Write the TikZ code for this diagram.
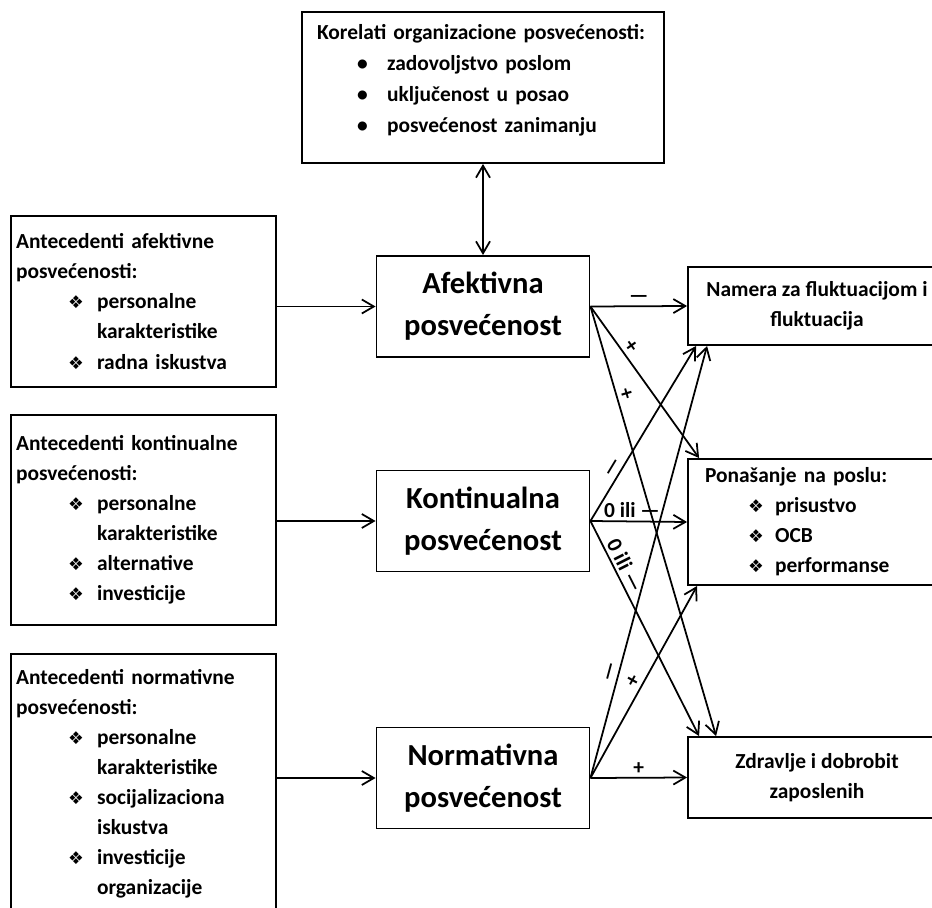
\documentclass[tikz,border=0pt]{standalone}
\usepackage{fontspec}
\setmainfont{Carlito}
\newfontfamily\simboli{DejaVu Sans}
\usetikzlibrary{arrows.meta,positioning}

\newcommand{\romb}{{\simboli\fontsize{10}{10}\selectfont ❖}}
\newcommand{\stavka}[1]{\hspace*{1.04cm}\makebox[0.58cm][l]{\romb}#1}
\newcommand{\nastavak}[1]{\hspace*{1.62cm}#1}
\newcommand{\tacka}[1]{\hspace*{0.8cm}\makebox[0.6cm][l]{\textbullet}#1}
\newcommand{\ishodstavka}[1]{\hspace*{0.86cm}\makebox[0.54cm][l]{\romb}#1}

\begin{document}
\begin{tikzpicture}[
        x=0.02cm, y=-0.02cm,
        okvir/.style={draw, line width=1.1pt, font=\bfseries\fontsize{12.2}{17.1}\selectfont},
        lijevi/.style={okvir, align=left, text width=5.1cm, inner xsep=0.1cm},
        posvecenost/.style={draw, line width=1.1pt, align=center, minimum width=4.26cm, minimum height=2.02cm, font=\bfseries\fontsize{17.4}{24}\selectfont},
        ishod/.style={okvir, minimum width=5.16cm},
        strelica/.style={-{Straight Barb[length=2.4mm,width=2.8mm]}, line width=1pt},
        dvostruka/.style={{Straight Barb[length=2.4mm,width=2.8mm]}-{Straight Barb[length=2.4mm,width=2.8mm]}, line width=1pt},
        oznaka/.style={above, inner sep=1.5pt, font=\bfseries\fontsize{12.2}{14}\selectfont}
    ]
        \useasboundingbox (0,0) rectangle (932,908);

        % korelati
        \node[okvir, align=left, text width=6.64cm, inner xsep=0.3cm, minimum height=3.02cm,
              font=\bfseries\fontsize{12.2}{17.6}\selectfont] (korelati) at (483,87.5)
            {Korelati organizacione posvećenosti:\\
             \tacka{zadovoljstvo poslom}\\
             \tacka{uključenost u posao}\\
             \tacka{posvećenost zanimanju}\\[-7pt]\mbox{}};

        % antecedenti
        \node[lijevi, minimum height=3.42cm] (ant1) at (143.5,301.5)
            {Antecedenti afektivne\\posvećenosti:\\
             \stavka{personalne}\\\nastavak{karakteristike}\\
             \stavka{radna iskustva}};
        \node[lijevi, minimum height=4.2cm] (ant2) at (143.5,520)
            {Antecedenti kontinualne\\posvećenosti:\\
             \stavka{personalne}\\\nastavak{karakteristike}\\
             \stavka{alternative}\\
             \stavka{investicije}};
        \node[lijevi, minimum height=5.18cm] (ant3) at (143.5,783.5)
            {Antecedenti normativne\\posvećenosti:\\
             \stavka{personalne}\\\nastavak{karakteristike}\\
             \stavka{socijalizaciona}\\\nastavak{iskustva}\\
             \stavka{investicije}\\\nastavak{organizacije}};

        % tri komponente
        \node[posvecenost] (afek) at (483,306.5) {Afektivna\\posvećenost};
        \node[posvecenost] (kont) at (483,521) {Kontinualna\\posvećenost};
        \node[posvecenost] (norm) at (483,778) {Normativna\\posvećenost};

        % ishodi
        \node[ishod, align=center, minimum height=1.56cm] (namera) at (817,306)
            {Namera za fluktuacijom i\\fluktuacija};
        \node[ishod, align=left, text width=4.48cm, inner xsep=0.34cm, minimum height=2.52cm] (ponasanje) at (817,522)
            {Ponašanje na poslu:\\
             \ishodstavka{prisustvo}\\
             \ishodstavka{OCB}\\
             \ishodstavka{performanse}};
        \node[ishod, align=center, minimum height=1.62cm] (zdravlje) at (817,777.5)
            {Zdravlje i dobrobit\\zaposlenih};

        \draw[dvostruka] (korelati.south) -- (afek.north);

        \draw[strelica] (ant1.east |- afek.west) -- (afek.west);
        \draw[strelica] (ant2.east |- kont.west) -- (kont.west);
        \draw[strelica] (ant3.east |- norm.west) -- (norm.west);

        \draw[strelica] (afek.east) -- node[oznaka]{—} (namera.west);
        \draw[strelica] (afek.east) -- node[oznaka, sloped, pos=0.3]{+} ([xshift=0.24cm]ponasanje.north west);
        \draw[strelica] (afek.east) -- node[oznaka, sloped, pos=0.21]{+} ([xshift=0.58cm]zdravlje.north west);

        \draw[strelica] (kont.east) -- node[oznaka, sloped, pos=0.28]{—} ([xshift=0.18cm]namera.south west);
        \draw[strelica] (kont.east) -- node[oznaka, pos=0.43]{0 ili —} (ponasanje.west);
        \draw[strelica] (kont.east) -- node[oznaka, sloped, pos=0.23]{0 ili —} ([xshift=0.24cm]zdravlje.north west);

        \draw[strelica] (norm.east) -- node[oznaka, sloped, pos=0.24]{—} ([xshift=0.4cm]namera.south west);
        \draw[strelica] (norm.east) -- node[oznaka, sloped, pos=0.48]{+} ([xshift=0.2cm]ponasanje.south west);
        \draw[strelica] (norm.east) -- node[oznaka]{+} (zdravlje.west);
    \end{tikzpicture}
\end{document}
